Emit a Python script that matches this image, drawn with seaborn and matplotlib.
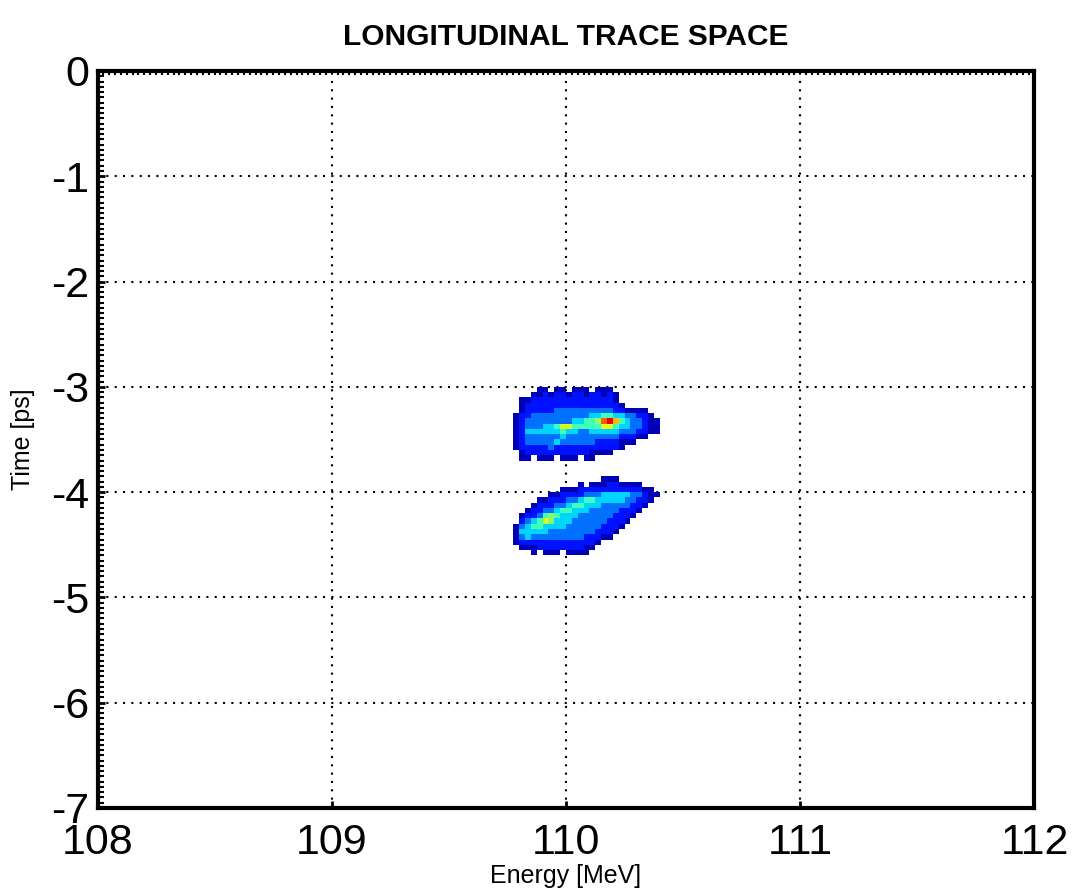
import numpy as np
import pandas as pd
import matplotlib
matplotlib.use("Agg")
import matplotlib.pyplot as plt
import seaborn as sns

# ---------------- data ----------------
title = "LONGITUDINAL TRACE SPACE"
x_label = "Energy [MeV]"
y_label = "Time [ps]"
x_ticks = [108, 109, 110, 111, 112]
y_ticks = [0, -1, -2, -3, -4, -5, -6, -7]

# density grid of the upper bunch (rows from top to bottom)
# energy cells 109.775 .. 110.400 (0.025 MeV), time cells -3.00 .. -3.70 (0.05 ps)
bunch1_x_range = (109.775, 110.400)
bunch1_y_range = (-3.00, -3.70)
bunch1_grid = [
    [0,0,0,0,1,1,0,1,1,0,1,1,1,0,1,1,1,0,0,0,0,0,0,0,0],
    [0,0,0,1,1,2,1,2,2,1,2,2,1,2,2,1,2,1,0,0,0,0,0,0,0],
    [0,1,1,2,2,2,2,2,2,2,2,2,2,2,2,2,2,1,0,0,0,0,0,0,0],
    [0,1,2,2,2,2,2,2,2,2,2,2,2,2,2,2,2,2,1,0,0,0,0,0,0],
    [0,1,2,2,2,2,2,3,3,3,3,3,3,3,3,3,3,2,2,1,1,1,1,0,0],
    [1,2,2,3,3,3,3,3,3,3,3,3,3,4,4,5,5,4,4,3,3,2,2,1,0],
    [1,2,3,3,3,3,3,3,3,3,4,4,5,5,6,9,10,8,5,4,3,3,2,1,1],
    [1,2,3,3,3,4,4,5,7,7,5,5,5,5,5,7,7,5,4,4,3,3,2,1,1],
    [1,2,4,4,4,4,4,4,5,4,4,3,3,4,4,4,4,4,3,3,3,2,2,1,1],
    [1,2,3,3,3,3,3,3,4,3,3,3,3,3,3,3,3,3,2,2,2,1,1,0,0],
    [1,2,3,3,3,3,3,4,3,3,3,3,3,3,2,2,2,2,1,1,1,0,0,0,0],
    [1,2,2,2,2,2,3,2,2,2,2,2,2,2,2,2,2,2,1,0,0,0,0,0,0],
    [0,1,2,2,2,2,2,2,2,2,2,2,2,1,1,1,1,0,0,0,0,0,0,0,0],
    [0,1,1,0,1,1,1,0,1,1,1,0,1,1,0,0,0,0,0,0,0,0,0,0,0],
]

# density grid of the lower bunch
# energy cells 109.775 .. 110.400 (0.025 MeV), time cells -3.85 .. -4.60 (0.05 ps)
bunch2_x_range = (109.775, 110.400)
bunch2_y_range = (-3.85, -4.60)
bunch2_grid = [
    [0,0,0,0,0,0,0,0,0,0,0,0,0,0,0,1,1,1,0,0,0,0,0,0,0],
    [0,0,0,0,0,0,0,0,0,0,0,1,0,1,1,1,2,2,1,1,1,1,0,0,0],
    [0,0,0,0,0,0,0,0,1,1,1,2,2,2,2,2,2,2,2,2,2,2,1,1,0],
    [0,0,0,0,0,0,1,1,2,2,2,2,3,3,3,4,4,4,4,4,3,3,2,1,1],
    [0,0,0,0,1,1,2,2,2,3,3,4,5,5,4,4,4,4,4,3,3,2,2,1,0],
    [0,0,0,1,2,2,2,3,3,4,5,5,4,4,4,3,3,3,3,3,2,2,1,0,0],
    [0,0,1,2,2,3,3,4,5,5,4,4,4,3,3,3,3,3,2,2,2,1,0,0,0],
    [0,1,2,2,3,5,6,5,4,4,4,3,3,3,3,3,3,2,2,2,1,0,0,0,0],
    [0,2,3,4,5,7,6,4,4,4,3,3,3,3,3,3,2,2,2,1,0,0,0,0,0],
    [1,3,4,5,5,4,4,4,4,3,3,3,3,3,3,2,2,2,1,0,0,0,0,0,0],
    [1,4,4,4,4,4,3,3,3,3,3,3,3,3,2,2,2,1,0,0,0,0,0,0,0],
    [1,3,4,3,3,3,3,3,3,3,3,3,2,2,2,1,1,0,0,0,0,0,0,0,0],
    [1,2,2,2,2,2,2,2,2,2,2,2,2,2,1,0,0,0,0,0,0,0,0,0,0],
    [0,1,1,1,2,2,2,2,2,2,2,2,1,1,0,0,0,0,0,0,0,0,0,0,0],
    [0,0,0,1,0,1,1,1,0,1,1,1,1,0,0,0,0,0,0,0,0,0,0,0,0],
]


def grid_to_frame(grid, xr, yr):
    g = np.array(grid, dtype=float)
    nrow, ncol = g.shape
    xe = np.linspace(xr[0], xr[1], ncol + 1)
    ye = np.linspace(yr[0], yr[1], nrow + 1)
    xc = 0.5 * (xe[:-1] + xe[1:])
    yc = 0.5 * (ye[:-1] + ye[1:])
    df = pd.DataFrame({
        "energy": np.tile(xc, nrow),
        "time": np.repeat(yc, ncol),
        "w": g.ravel(),
    })
    return df, xe, np.sort(ye)


# ---------------- style ----------------
sns.set_theme(style="white")
plt.rcParams["font.family"] = ["Liberation Sans", "DejaVu Sans"]
plt.rcParams["axes.unicode_minus"] = False

jet = matplotlib.colormaps["jet"]

fig = plt.figure(figsize=(10.75, 8.93), dpi=100)
ax = fig.add_axes([0.0907, 0.0952, 0.8716, 0.8253])

for grid, xr, yr in [(bunch1_grid, bunch1_x_range, bunch1_y_range),
                     (bunch2_grid, bunch2_x_range, bunch2_y_range)]:
    df, xe, ye = grid_to_frame(grid, xr, yr)
    sns.histplot(data=df, x="energy", y="time", weights="w",
                 bins=(xe, ye), cmap=jet, vmin=0.5, vmax=11,
                 cbar=False, ax=ax, edgecolor="none", antialiased=False,
                 zorder=2)

ax.set_xlim(108, 112)
ax.set_ylim(-7, 0)
ax.set_xticks(x_ticks)
ax.set_xticklabels([str(v) for v in x_ticks])
ax.set_yticks(y_ticks)
ax.set_yticklabels([str(v) for v in y_ticks])

ax.set_axisbelow(True)
ax.grid(True, which="major", color="black", linestyle=(0, (1, 3)), linewidth=1.5)

for s in ax.spines.values():
    s.set_visible(True)
    s.set_color("black")
    s.set_linewidth(3)

ax.tick_params(which="major", direction="in", length=5, width=2, color="black",
               labelsize=31, labelcolor="black", left=True, bottom=True,
               top=False, right=False)
ax.tick_params(axis="x", which="major", pad=11)
ax.tick_params(axis="y", which="major", pad=6)
ax.xaxis.set_minor_locator(matplotlib.ticker.MultipleLocator(0.025))
ax.yaxis.set_minor_locator(matplotlib.ticker.MultipleLocator(0.05))
ax.tick_params(axis="x", which="minor", direction="in", length=3, width=1.5,
               top=True, bottom=False, color="black")
ax.tick_params(axis="y", which="minor", direction="in", length=4, width=1.5,
               left=True, right=False, color="black")

ax.set_xlabel(x_label, fontsize=18, color="black")
ax.set_ylabel(y_label, fontsize=18, color="black")
ax.xaxis.set_label_coords(0.5, -0.076)
ax.yaxis.set_label_coords(-0.067, 0.5)
ax.set_title(title, fontsize=21.5, fontweight="bold", color="black", pad=19)

fig.savefig("out.png", dpi=100, facecolor="white")
